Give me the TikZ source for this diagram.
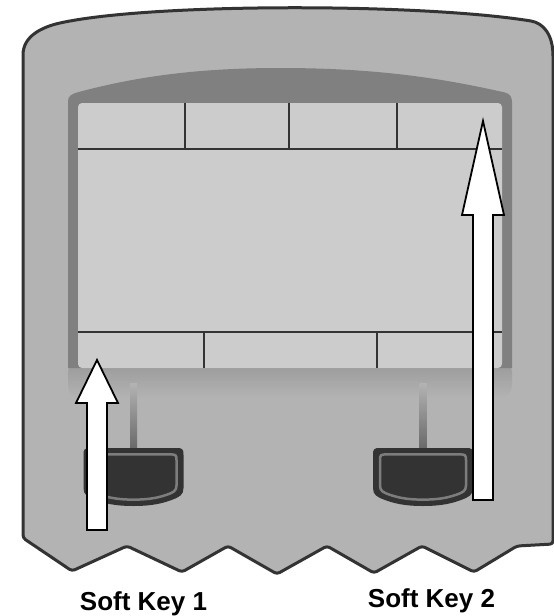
\documentclass[tikz,border=0pt]{standalone}
\usepackage{fontspec}
\setmainfont{Liberation Sans}
\usetikzlibrary{calc,positioning}
\definecolor{BodyGray}{RGB}{179,179,179}
\definecolor{BezelGray}{RGB}{128,128,128}
\definecolor{BezelLow}{RGB}{152,152,152}
\definecolor{ScreenGray}{RGB}{204,204,204}
\definecolor{EdgeDark}{RGB}{51,51,51}
\definecolor{KeyRim}{RGB}{125,125,125}
\definecolor{StemDark}{RGB}{105,105,105}
\newcommand{\keyoutline}{(-50,-22) .. controls (-50,-28) and (-49,-29) .. (-43,-29) -- (43,-29) .. controls (49,-29) and (50,-28) .. (50,-22) -- (50,11) .. controls (50,18) and (46,20) .. (38,23) .. controls (25,28) and (12,29) .. (0,29) .. controls (-12,29) and (-25,28) .. (-38,23) .. controls (-46,20) and (-50,18) .. (-50,11) -- cycle}

\begin{document}
\begin{tikzpicture}[x=1pt,y=-1pt,
  body/.style={draw=EdgeDark,line width=3pt,fill=BodyGray,line join=round},
  screenline/.style={draw=EdgeDark,line width=1.1pt},
  pointer/.style={draw=black,line width=1.8pt,fill=white,line join=miter},
  keylabel/.style={font=\bfseries\fontsize{26}{30}\selectfont,anchor=base}]
  \useasboundingbox (0,0) rectangle (554,616);
  % housing
  \path[body] (23,58) .. controls (23,36) and (42,27) .. (60,23)
    .. controls (150,3) and (420,3) .. (531,21)
    .. controls (543,23) and (553,34) .. (553,56)
    [rounded corners=3pt] -- (553,544) -- (517,546) -- (474,572) -- (422,546) -- (374,573)
    -- (327,546) -- (277,574) -- (228,546) -- (182,572) -- (127,546) -- (72,571) -- (23,538) -- cycle;
  % bezel and display
  \shade[top color=BezelLow,bottom color=BodyGray,rounded corners=12pt] (68,360) rectangle (512,398);
  \fill[BezelGray] (68,368) -- (68,101) .. controls (68,96) and (72,94) .. (77,92.5)
    .. controls (145,74) and (210,68) .. (280,68) .. controls (380,68) and (445,79) .. (505,92.5)
    .. controls (510,94) and (512,97) .. (512,102) -- (512,368) -- cycle;
  \fill[ScreenGray,rounded corners=4pt] (78,103) rectangle (502,368);
  \draw[screenline] (78,149) -- (502,149);
  \draw[screenline] (78,332) -- (502,332);
  \foreach \sx in {185,289,397} \draw[screenline] (\sx,103) -- (\sx,149);
  \foreach \sx in {204,377} \draw[screenline] (\sx,332) -- (\sx,368);
  % soft keys
  \foreach \kx in {133.5,423} {
    \shade[top color=BodyGray,bottom color=StemDark] ({\kx-3.5},383) rectangle ({\kx+3.5},449);
    \begin{scope}[shift={(\kx,477)}]
      \fill[EdgeDark] \keyoutline;
      \begin{scope}[xscale=0.86,yscale=0.78]
        \draw[KeyRim,line width=2.5pt,fill=EdgeDark] \keyoutline;
      \end{scope}
    \end{scope}
  }
  % pointers
  \draw[pointer] (87,530) -- (87,403) -- (76,403) -- (97,360) -- (118,403) -- (107,403) -- (107,530) -- cycle;
  \draw[pointer] (473,500) -- (473,215) -- (462,215) -- (483,121) -- (504,215) -- (493,215) -- (493,500) -- cycle;
  \node[keylabel] (softkeyone) at (143.5,610) {Soft Key 1};
  \node[keylabel] (softkeytwo) at (431.5,607) {Soft Key 2};
\end{tikzpicture}
\end{document}
